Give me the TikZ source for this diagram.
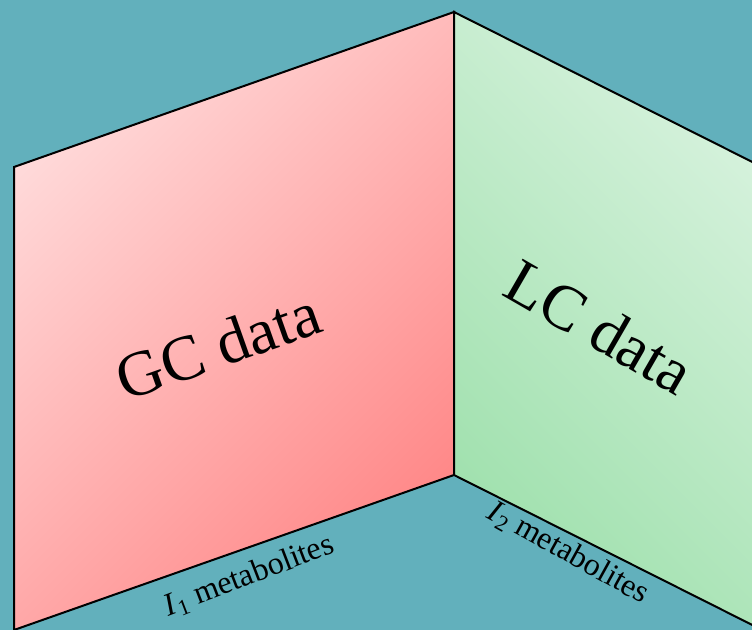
\documentclass[tikz,border=0pt]{standalone}
\usepackage{fontspec}
\setmainfont{Liberation Serif}
\usetikzlibrary{positioning}
\definecolor{bgteal}{RGB}{98,176,188}
\definecolor{gclight}{RGB}{255,218,218}
\definecolor{gcdark}{RGB}{255,136,136}
\definecolor{lclight}{RGB}{218,243,224}
\definecolor{lcdark}{RGB}{158,224,172}

\begin{document}
\begin{tikzpicture}[
  x=0.75pt, y=-0.75pt,
  wall/.style={draw=black, line width=1.5pt, line join=miter},
  title/.style={font=\fontsize{48}{48}\selectfont, inner sep=0pt},
  axislab/.style={font=\fontsize{24}{24}\selectfont, inner sep=0pt}
]
\useasboundingbox (0,0) rectangle (752,630);
\fill[bgteal] (0,0) rectangle (752,630);
\coordinate (top) at (454,12);
\coordinate (mid) at (454,475);
\coordinate (gctop) at (14,167);
\coordinate (gcbot) at (14,630);
\coordinate (lctop) at (812,192);
\coordinate (lcbot) at (812,655);
\begin{scope}
  \clip (0,0) rectangle (752,630);
  % the two walls
  \shade[wall, top color=gclight, bottom color=gcdark, shading angle=45]
    (gctop) -- (top) -- (mid) -- (gcbot) -- cycle;
  \shade[wall, top color=lclight, bottom color=lcdark, shading angle=-45]
    (top) -- (lctop) -- (lcbot) -- (mid) -- cycle;
\end{scope}
\node[title, rotate=19.5] (gclabel) at (218,346) {GC data};
\node[title, rotate=-30] (lclabel) at (600,327) {LC data};
\node[axislab, rotate=21] (gcaxis) at (249,576) {\textit{I}\textsubscript{1} metabolites};
\node[axislab, rotate=-29] (lcaxis) at (568,553) {\textit{I}\textsubscript{2} metabolites};
\end{tikzpicture}
\end{document}
